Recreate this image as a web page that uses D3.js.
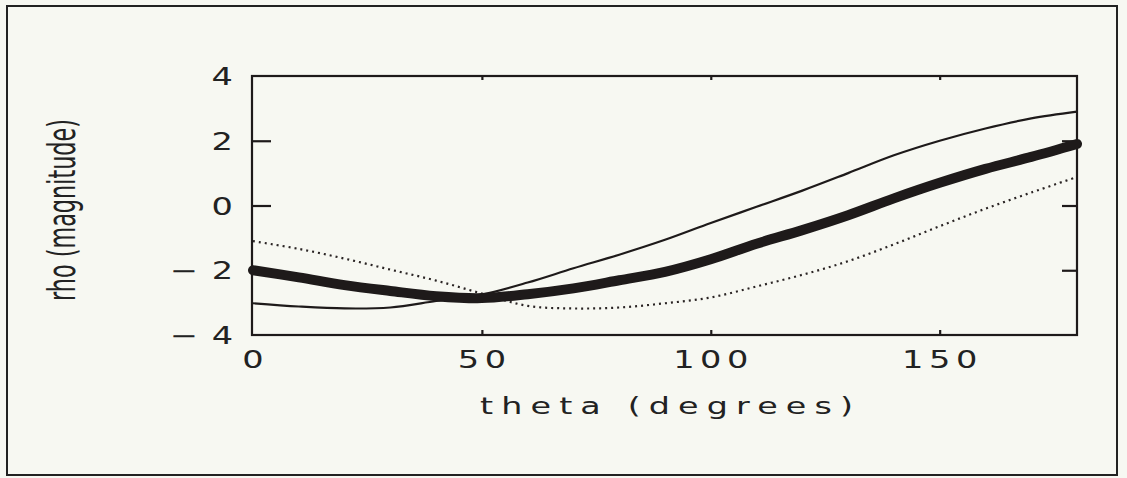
<!DOCTYPE html>
<html>
<head>
<meta charset="utf-8">
<script src="https://cdn.jsdelivr.net/npm/d3@7"></script>
<style>
  body { margin: 0; background: #f7f8f2; }
  svg { display: block; }
  .tick-label { font-family: "DejaVu Sans", sans-serif; fill: #222; font-size: 24px; }
</style>
</head>
<body>
<div id="chart"></div>
<script>
// theta values (degrees) the curves were read at
var theta = [0, 10, 20, 30, 40, 50, 60, 70, 80, 90, 100, 110, 120, 130, 140, 150, 160, 170, 180];

// thin solid curve
var rhoSolid = [-3.02, -3.12, -3.18, -3.15, -2.95, -2.75, -2.38, -1.94, -1.52, -1.06, -0.54, -0.04, 0.46, 1.0, 1.55, 2.0, 2.38, 2.69, 2.9];
// thick curve
var rhoThick = [-2.0, -2.22, -2.46, -2.64, -2.8, -2.86, -2.74, -2.56, -2.31, -2.05, -1.66, -1.18, -0.76, -0.3, 0.22, 0.7, 1.13, 1.5, 1.9];
// dotted curve
var rhoDotted = [-1.1, -1.34, -1.64, -1.98, -2.32, -2.72, -3.1, -3.18, -3.15, -3.02, -2.84, -2.5, -2.14, -1.72, -1.2, -0.64, -0.1, 0.4, 0.88];

var xTicks = [0, 50, 100, 150];
var yTicks = [-4, -2, 0, 2, 4];

var W = 1127, H = 478;
var sx = 1.4; // glyphs in the original are wide, so stretch them

var svg = d3.select("#chart").append("svg")
    .attr("width", W)
    .attr("height", H);

// outer frame
svg.append("rect")
    .attr("x", 7).attr("y", 6)
    .attr("width", 1110).attr("height", 469)
    .attr("fill", "none")
    .attr("stroke", "#222")
    .attr("stroke-width", 2);

var xScale = d3.scaleLinear().domain([0, 180]).range([253, 1077]);
var yScale = d3.scaleLinear().domain([-4, 4]).range([335, 76]);

// plot box
svg.append("rect")
    .attr("x", xScale(0) - 1).attr("y", yScale(4))
    .attr("width", xScale(180) - xScale(0) + 1)
    .attr("height", yScale(-4) - yScale(4))
    .attr("fill", "none")
    .attr("stroke", "#1e1a1a")
    .attr("stroke-width", 2.2);

// inward ticks on all four sides
var inner = [-2, 0, 2];
var yTickLeft = d3.axisRight(yScale).tickValues(inner).tickSize(19).tickFormat("");
var yTickRight = d3.axisLeft(yScale).tickValues(inner).tickSize(15).tickFormat("");
var xTickBottom = d3.axisTop(xScale).tickValues([50, 100, 150]).tickSize(5).tickFormat("");
var xTickTop = d3.axisBottom(xScale).tickValues([50, 100, 150]).tickSize(4).tickFormat("");

svg.append("g").attr("transform", "translate(" + (xScale(0) - 1) + ",0)").call(yTickLeft);
svg.append("g").attr("transform", "translate(" + xScale(180) + ",0)").call(yTickRight);
svg.append("g").attr("transform", "translate(0," + yScale(-4) + ")").call(xTickBottom);
svg.append("g").attr("transform", "translate(0," + yScale(4) + ")").call(xTickTop);

svg.selectAll(".domain").remove();
svg.selectAll(".tick line").attr("stroke", "#1e1a1a").attr("stroke-width", 2.2);

// x tick labels
svg.append("g").selectAll("g")
    .data(xTicks)
    .enter().append("g")
    .attr("transform", function(d) { return "translate(" + xScale(d) + ",368) scale(" + sx + ",1)"; })
    .append("text")
    .attr("class", "tick-label")
    .attr("text-anchor", "middle")
    .attr("dx", 2)
    .style("letter-spacing", "4px")
    .text(function(d) { return d; });

// y tick labels, minus set apart like the original
svg.append("g").selectAll("g")
    .data(yTicks)
    .enter().append("g")
    .attr("transform", function(d) { return "translate(" + (233 + 10 * sx) + "," + (yScale(d) + 9) + ") scale(" + sx + ",1)"; })
    .append("text")
    .attr("class", "tick-label")
    .attr("text-anchor", "end")
    .style("letter-spacing", "10px")
    .text(function(d) { return d < 0 ? "\u2212" + Math.abs(d) : d; });

// axis titles
svg.append("g")
    .attr("transform", "translate(480,414) scale(1.45,1)")
    .append("text")
    .attr("textLength", 373 / 1.45)
    .attr("lengthAdjust", "spacing")
    .style("font-family", "DejaVu Sans, sans-serif")
    .style("font-size", "23px")
    .style("fill", "#222")
    .text("theta (degrees)");

svg.append("text")
    .attr("transform", "translate(75,210) rotate(-90)")
    .attr("text-anchor", "middle")
    .attr("textLength", 182)
    .attr("lengthAdjust", "spacingAndGlyphs")
    .style("font-family", "Liberation Sans Narrow, DejaVu Sans Condensed, sans-serif")
    .style("font-size", "37px")
    .style("fill", "#222")
    .text("rho (magnitude)");

// curves
var line = d3.line()
    .x(function(d) { return xScale(d[0]); })
    .y(function(d) { return yScale(d[1]); })
    .curve(d3.curveCatmullRom.alpha(0.5));

function pairs(vals) {
  return theta.map(function(t, i) { return [t, vals[i]]; });
}

svg.append("path")
    .datum(pairs(rhoDotted))
    .attr("d", line)
    .attr("fill", "none")
    .attr("stroke", "#2a2424")
    .attr("stroke-width", 2.2)
    .attr("stroke-dasharray", "2,4");

svg.append("path")
    .datum(pairs(rhoSolid))
    .attr("d", line)
    .attr("fill", "none")
    .attr("stroke", "#1e1a1a")
    .attr("stroke-width", 2.2);

svg.append("path")
    .datum(pairs(rhoThick))
    .attr("d", line)
    .attr("fill", "none")
    .attr("stroke", "#1e1a1a")
    .attr("stroke-width", 10)
    .attr("stroke-linecap", "round");
</script>
</body>
</html>
